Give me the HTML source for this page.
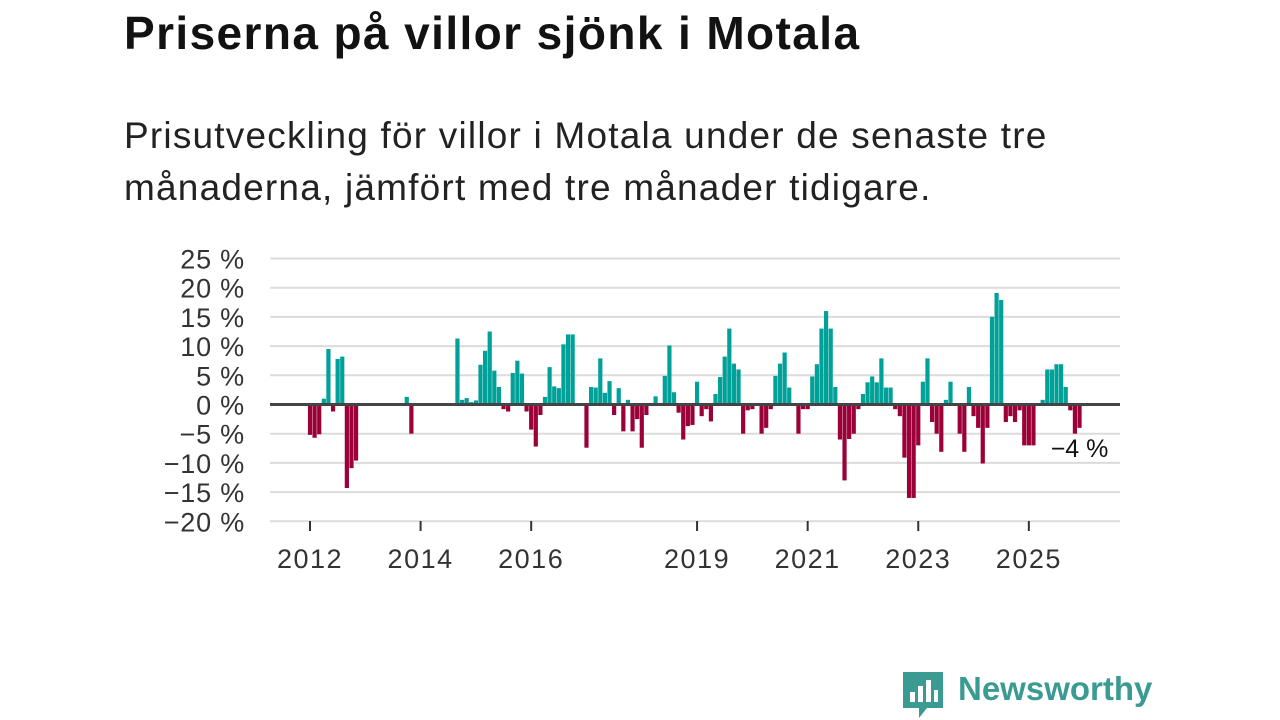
<!DOCTYPE html>
<html><head><meta charset="utf-8"><style>
body{margin:0;width:1280px;height:720px;background:#fff;font-family:"Liberation Sans",sans-serif;overflow:hidden;position:relative;color:#111}
h1{position:absolute;left:124px;top:6px;margin:0;font-size:46px;font-weight:bold;color:#121212;letter-spacing:1.4px;white-space:nowrap}
.sub{position:absolute;left:124px;top:110px;margin:0;font-size:37px;line-height:52px;color:#222;width:1100px;letter-spacing:1.2px}
svg{position:absolute;left:0;top:0}
.logo{position:absolute;left:958px;top:670px;font-size:33px;font-weight:bold;color:#3a9b92}
</style></head><body>
<h1>Priserna på villor sjönk i Motala</h1>
<div class="sub">Prisutveckling för villor i Motala under de senaste tre<br>månaderna, jämfört med tre månader tidigare.</div>
<svg id="chart" width="1280" height="720"></svg>
<svg width="1280" height="720" style="pointer-events:none">
<path d="M903 672 h40 v36 h-16 l-8 10 v-10 h-16 z" fill="#3a9b92"/>
<rect x="910" y="692" width="5" height="10" fill="#fff"/><rect x="918" y="686" width="5" height="16" fill="#fff"/><rect x="926" y="680" width="5" height="22" fill="#fff"/><rect x="934" y="690" width="4" height="12" fill="#fff"/>
</svg>
<div class="logo">Newsworthy</div>
<script>
const yTicks=[25,20,15,10,5,0,-5,-10,-15,-20];
const xTickYears=[2012,2014,2016,2019,2021,2023,2025];
const values=[
// index = months since Jan 2012
-5.2,-5.7,-5.1,1.0,9.5,-1.2,7.8,8.2,-14.3,-10.9,-9.6,0,0,0,0,0,0,0,0,0,0,1.3,-5.0,0,0,0,0,0,0,0,0,0,
11.3,0.8,1.1,0.4,0.7,6.8,9.2,12.5,5.8,3.0,-0.8,-1.2,5.4,7.5,5.3,-1.2,-4.3,-7.2,-1.8,1.3,6.4,3.1,2.8,10.3,12.0,12.0,0,0,
-7.4,3.0,2.9,7.9,2.0,4.0,-1.8,2.8,-4.6,0.8,-4.6,-2.5,-7.4,-1.8,0,1.4,0,4.9,10.1,2.1,-1.4,-6.0,-3.7,-3.5,
3.9,-2.0,-0.8,-2.9,1.8,4.7,8.2,13.0,7.0,6.0,-5.0,-1.0,-0.8,0,-5.0,-4.0,-0.8,4.9,7.0,8.9,2.9,0,
-5.0,-0.8,-0.8,4.8,6.9,13.0,16.0,13.0,3.0,-6.0,-13.0,-5.9,-5.0,-0.8,1.8,3.8,4.8,3.8,7.9,2.9,2.9,-0.8,-2.0,-9.1,-16.0,-16.0,
-7.0,3.9,7.9,-3.0,-5.0,-8.1,0.8,3.9,0,-5.0,-8.1,3.0,-2.0,-4.0,-10.1,-4.0,15.0,19.1,17.9,-3.0,-2.0,-3.0,-1.0,-7.0,-7.0,-7.0,0,
0.8,6.0,6.0,6.9,6.9,3.0,-1.0,-5.0,-4.0];
const lastLabel=["−4 %"];
const NS="http://www.w3.org/2000/svg";
const svg=document.getElementById('chart');
const y=v=>404.5-v*5.84;
const x=m=>310+m*4.608; // month index from Jan 2012
function el(t,a){const e=document.createElementNS(NS,t);for(const k in a)e.setAttribute(k,a[k]);svg.appendChild(e);return e;}
yTicks.forEach(t=>{
 if(t!==0){const g=el('line',{x1:270,x2:1120,y1:y(t),y2:y(t),stroke:'#dcdcdc','stroke-width':2});
 
 }
 const l=el('text',{x:245,y:y(t)+10,'text-anchor':'end','font-size':27,fill:'#333','letter-spacing':0.8});
 l.textContent=(t<0?'−'+(-t):t)+' %';
 
 
});
xTickYears.forEach(yr=>{
 const m=(yr-2012)*12;
 const tk=el('line',{x1:x(m),x2:x(m),y1:521,y2:531,stroke:'#333','stroke-width':2});
 
 
 const l=el('text',{x:x(m),y:568,'text-anchor':'middle','font-size':27,fill:'#333','letter-spacing':1.5});
 l.textContent=yr;
 
 
});
values.forEach((v,i)=>{
 if(v===0)return;
 const r=el('rect',{x:x(i)-2.1,width:4.2,y:Math.min(y(v),y(0)),height:Math.abs(y(v)-y(0)),fill:v>0?'#00a198':'#9c0038'});
 
 
});
const z=el('line',{x1:270,x2:1120,y1:y(0),y2:y(0),stroke:'#444','stroke-width':3});


const lastI=values.length-1;
const lb=el('text',{x:x(lastI),y:y(values[lastI])+29,'text-anchor':'middle','font-size':25,fill:'#111',stroke:'#fff','stroke-width':6,'paint-order':'stroke'});
lb.textContent=lastLabel[0];


</script>
</body></html>
